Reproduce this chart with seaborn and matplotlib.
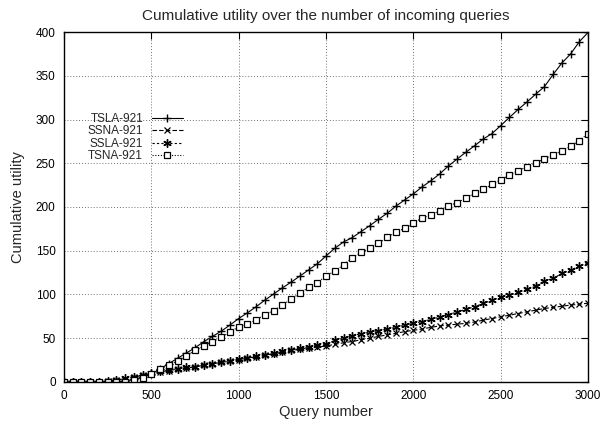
import numpy as np
import pandas as pd
import matplotlib
matplotlib.use("Agg")
import matplotlib.pyplot as plt
import seaborn as sns

queries = list(range(0, 3001, 50))

tsla = [0, 0, 0, 0, 0, 0, 0.5,
        1, 3, 5.5, 9,
        15, 21, 27, 33, 39, 46, 52, 58, 65, 72.5,
        79, 86, 93.5, 100.5, 107.5, 114, 121, 128, 135, 144,
        152.8, 160, 165, 171.8, 178.6, 185.9, 192.8, 201, 208, 215,
        223, 230, 237.7, 246.8, 254.8, 262.5, 270, 277.7, 284, 293,
        302.5, 311.6, 320, 329, 337.5, 351.6, 364.6, 375, 389, 399.6]

tsna = [0, 0, 0, 0, 0, 0, 0, 0.3,
        2, 5, 9,
        14.8, 19.4, 24, 29.7, 36, 41, 46, 51, 57, 63,
        66, 71, 77, 81.5, 88, 94.5, 101.3, 108, 113.5, 121,
        126.9, 133.7, 142, 148, 152.8, 158.5, 165.3, 171, 175.6, 181.3,
        187.8, 190.5, 195.8, 201, 205, 210, 215.6, 220, 226, 231,
        236.6, 241.5, 246, 250.6, 254.8, 260, 264, 269.7, 275.8, 284]

ssla = [0, 0, 0, 0, 0,
        1, 2, 4, 6, 8, 10,
        12, 13.5, 15, 16.5, 17.5, 19.2, 21, 23, 24, 26,
        27.4, 29.7, 31.2, 32.5, 35, 37, 38.5, 40, 42, 43.6,
        47.4, 50, 53, 55, 56.8, 58.6, 60.5, 62.4, 65, 67,
        69, 71.5, 74, 77, 80, 83, 85.9, 89.7, 93.5, 96.6,
        99.2, 102.3, 105.7, 109.5, 115.6, 118.3, 124, 127.9, 132.4, 136]

ssna = [0, 0, 0, 0, 0,
        1, 2, 3.5, 5.5, 7.5, 9.5,
        11.5, 13, 14.5, 16, 17, 19, 20.5, 22.5, 23.5, 25.5,
        27, 29, 30.5, 32, 34, 36, 37.5, 39, 40, 41,
        43, 44.7, 46.2, 48.1, 50, 52, 53.8, 55.6, 57.5, 59,
        60.5, 62.4, 64, 65, 66, 67, 68.5, 70.6, 72.5, 74.4,
        76.3, 78.2, 80.2, 82, 84, 85.1, 86.6, 87.8, 88.9, 90]

labels = ["TSLA-921", "SSNA-921", "SSLA-921", "TSNA-921"]
series = [tsla, ssna, ssla, tsna]

title = "Cumulative utility over the number of incoming queries"
xlabel = "Query number"
ylabel = "Cumulative utility"
xticks = list(range(0, 3001, 500))
yticks = list(range(0, 401, 50))

sns.set_theme(style="white")
plt.rcParams['font.family'] = ['Liberation Sans', 'DejaVu Sans']

fig = plt.figure(figsize=(6.01, 4.22), dpi=100)
ax = fig.add_axes([0.1065, 0.095, 0.872, 0.829])

styles = [
    dict(marker="+", linestyle="-", markersize=6, mew=1.0),
    dict(marker="x", linestyle=(0, (4, 2)), markersize=4.5, mew=0.9),
    dict(marker=(6, 2, 0), linestyle=(0, (2, 2)), markersize=6, mew=1.0),
    dict(marker="s", linestyle=(0, (1, 1.5)), markersize=5, mew=0.9, markerfacecolor="white"),
]

for lab, vals, st in zip(labels, series, styles):
    df = pd.DataFrame({"q": queries, "u": vals})
    sns.lineplot(data=df, x="q", y="u", ax=ax, color="black", linewidth=0.8,
                 label=lab, markeredgecolor="black", **st)

ax.set_xlim(0, 3000)
ax.set_ylim(0, 400)
ax.set_xticks(xticks)
ax.set_yticks(yticks)
ax.grid(True, linestyle=(0, (1, 2)), color="#707070", linewidth=0.7)
ax.tick_params(direction="in", top=True, right=True, length=5, width=0.8,
               labelsize=8.5, colors="black", pad=6)
for sp in ax.spines.values():
    sp.set_color("black")
    sp.set_linewidth(1.0)

ax.set_title(title, fontsize=11, pad=9)
ax.set_xlabel(xlabel, fontsize=10.5, labelpad=2)
ax.set_ylabel(ylabel, fontsize=10.5, labelpad=8)

leg = ax.legend(loc="upper left", bbox_to_anchor=(0.045, 0.768), frameon=False,
                markerfirst=False, fontsize=8.5, handlelength=2.6,
                labelspacing=0.02, handletextpad=0.75, borderaxespad=0,
                borderpad=0)

fig.savefig("out.png", dpi=100)
